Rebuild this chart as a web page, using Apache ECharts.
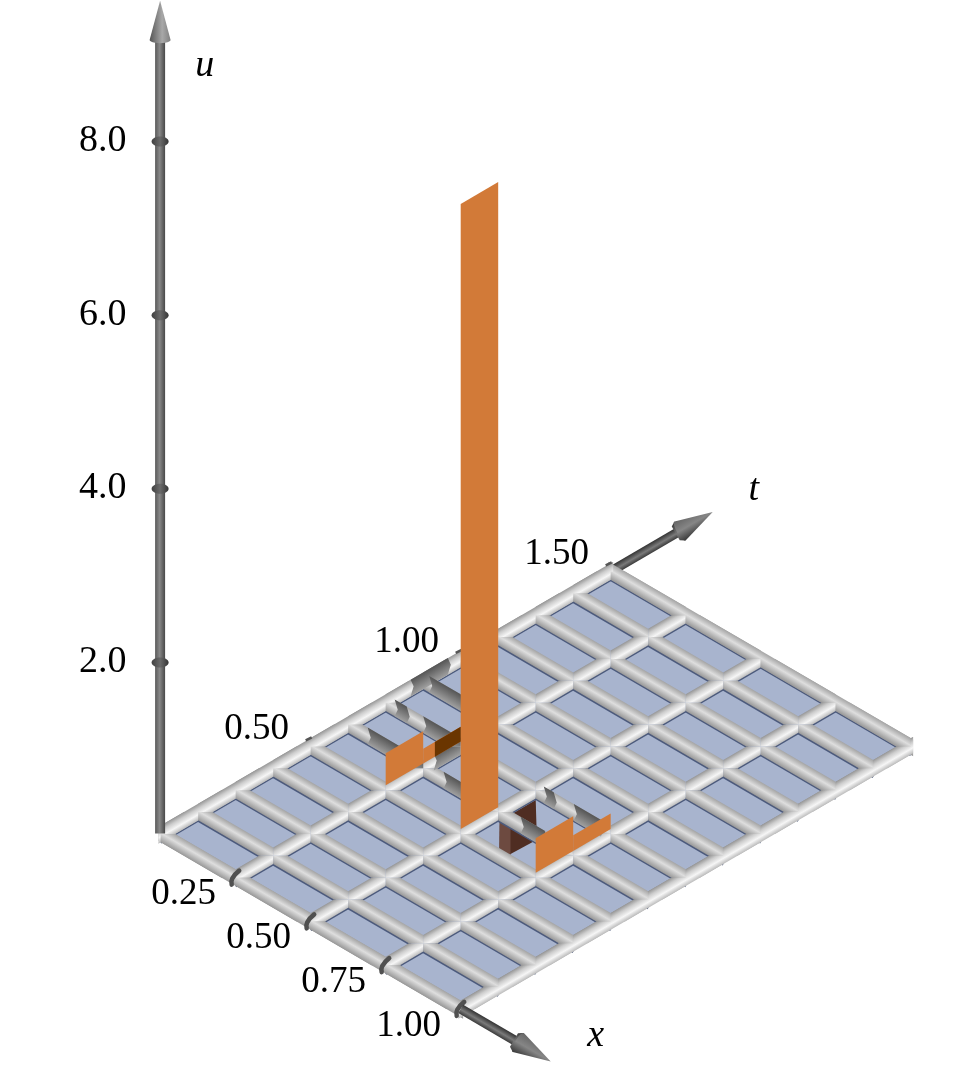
<!DOCTYPE html>
<html>
<head>
<meta charset="utf-8">
<style>html,body{margin:0;padding:0;background:#fff}#c{width:960px;height:1080px}</style>
<script src="https://cdn.jsdelivr.net/npm/echarts@6/dist/echarts.min.js"></script>
</head>
<body>
<div id="c"></div>
<script>
// ---- data (in x, t, u units) ----
const xGrid = [0, 0.25, 0.5, 0.75, 1];
const tGrid = [0, 0.125, 0.25, 0.375, 0.5, 0.625, 0.75, 0.875, 1, 1.125, 1.25, 1.375, 1.5];
const uTicks = [2, 4, 6, 8];
const uTickLabels = ['2.0', '4.0', '6.0', '8.0'];
const xTicks = [0.25, 0.5, 0.75, 1];
const xTickLabels = ['0.25', '0.50', '0.75', '1.00'];
const tTicks = [0.5, 1, 1.5];
const tTickLabels = ['0.50', '1.00', '1.50'];
// solution panels: at x, from t0 to t1, height u
const panelX  = [0.25, 0.25, 0.75, 0.75, 0.5];
const panelT0 = [0.625, 0.5, 0.625, 0.5, 0.5];
const panelT1 = [0.75, 0.625, 0.75, 0.625, 0.625];
const panelU  = [0.17, 0.37, 0.18, 0.40, 7.2];
// part of a panel seen darker
const darkPanel = [[0.25, 0.664, 0.75, 0.17]];
// grid tube stretches lying in shade: x0, t0, x1, t1
const shadeSegments = [
  [0, 0.833, 0, 0.957],
  [0.02, 0.875, 0.125, 0.875],
  [0.03, 0.75, 0.07, 0.75],
  [0.125, 0.75, 0.25, 0.75],
  [0.065, 0.625, 0.25, 0.625],
  [0.318, 0.625, 0.39, 0.625],
  [0.25, 0.66, 0.25, 0.75],
  [0.527, 0.75, 0.56, 0.75],
  [0.627, 0.75, 0.717, 0.75],
  [0.575, 0.625, 0.655, 0.625]
];
// translucent pit floor below the plane, as (x, t) outlines
const pitDark = [[0.528,0.648],[0.528,0.722],[0.644,0.61],[0.64,0.52],[0.61,0.519],[0.531,0.599]];
const pitLight = [[0.531,0.599],[0.563,0.603],[0.643,0.523],[0.61,0.519]];

// ---- oblique projection onto the chart's value axes ----
const OX = 160.7, OY = 836.5, EX = 300, EY = 175, EU = 86.83;
const PLANE = 0.03, SURF = 0.085, TUBE = 0.096;
function proj(x, t, u) { return [OX + EX * (x + t), OY + EY * (x - t) - EU * u]; }
const G = echarts.graphic;
function grad(a, b, stops) { return new G.LinearGradient(a[0], a[1], b[0], b[1], stops, true); }
function poly(points, fill) { return { type: 'polygon', shape: { points }, style: { fill } }; }
const STOPS_T = [{offset:0,color:'#969696'},{offset:0.3,color:'#cdcdcd'},{offset:0.66,color:'#f6f6f6'},{offset:1,color:'#bcbcbc'}];
const STOPS_X = [{offset:0,color:'#a4a4a4'},{offset:0.45,color:'#dedede'},{offset:1,color:'#989898'}];
const STOPS_D = [{offset:0,color:'#555555'},{offset:0.55,color:'#7e7e7e'},{offset:1,color:'#a0a0a0'}];

const isNode = (x, t) => xGrid.includes(x) && tGrid.includes(t);

function tubeGrad(A, B, D, stops) {
  const dx = B[0] - A[0], dy = B[1] - A[1], l = Math.hypot(dx, dy);
  const n = [-dy / l, dx / l];
  const k = n[0] * (D[0] - A[0]) + n[1] * (D[1] - A[1]);
  return grad(A, [A[0] + n[0] * k, A[1] + n[1] * k], stops);
}
// a plain stretch with straight vertical ends
function tubeFull(api, x0, t0, x1, t1, stops) {
  const c = (x, t, u) => api.coord(proj(x, t, u));
  const A = c(x0, t0, PLANE + TUBE), B = c(x1, t1, PLANE + TUBE);
  const C = c(x1, t1, PLANE - TUBE), D = c(x0, t0, PLANE - TUBE);
  return poly([A, B, C, D], tubeGrad(A, B, D, stops));
}
// a stretch between two places; node ends meet neighbours in a mitred point,
// free ends are bowed like a shading boundary round a cylinder
function tubeArm(api, x0, t0, x1, t1, stops) {
  const A = proj(x0, t0, PLANE + TUBE), B = proj(x1, t1, PLANE + TUBE);
  const C = proj(x1, t1, PLANE - TUBE), D = proj(x0, t0, PLANE - TUBE);
  const N0 = proj(x0, t0, PLANE), N1 = proj(x1, t1, PLANE);
  const dx = N1[0] - N0[0], dy = N1[1] - N0[1], l = Math.hypot(dx, dy);
  const d = [dx / l, dy / l];
  const w = TUBE * EU * EX / EY;
  const rising = d[1] < 0;
  let pts;
  const bow0 = [N0[0] + d[0] * 3.5, N0[1] + d[1] * 3.5], bow1 = [N1[0] + d[0] * 3.5, N1[1] + d[1] * 3.5];
  const startUpper = isNode(x0, t0) ? (rising ? [N0, A] : [N0, [N0[0] + w, N0[1]]]) : [bow0, A];
  const startLower = isNode(x0, t0) ? (rising ? [[N0[0] + w, N0[1]]] : [D]) : [D];
  const end = isNode(x1, t1)
    ? (rising ? [[N1[0] - w, N1[1]], N1, C] : [B, N1, [N1[0] - w, N1[1]]])
    : [B, bow1, C];
  pts = startUpper.concat(end, startLower);
  return poly(pts.map(q => api.coord(q)), tubeGrad(api.coord(A), api.coord(B), api.coord(D), stops));
}

// build tube lists from the grid arrays
const lastT = tGrid[tGrid.length - 1], lastX = xGrid[xGrid.length - 1];
const edgeT = [0, lastX].map(x => [x, tGrid[0] - 0.008, x, lastT + 0.008]);
const edgeX = [0, lastT].map(t => [xGrid[0] - 0.008, t, lastX + 0.008, t]);
const armsT = [], armsX = [], edgeLines = [];
xGrid.forEach(x => {
  for (let i = 0; i < tGrid.length - 1; i++) armsT.push([x, tGrid[i], x, tGrid[i + 1]]);
  if (x < lastX) edgeLines.push([x, tGrid[0], x, lastT]);
});
tGrid.forEach(t => {
  for (let i = 0; i < xGrid.length - 1; i++) armsX.push([xGrid[i], t, xGrid[i + 1], t]);
  if (t > 0) edgeLines.push([xGrid[0], t, lastX, t]);
});

function custom(data, renderItem, z) {
  return { type: 'custom', coordinateSystem: 'cartesian2d', data, renderItem, z, clip: false, silent: true,
    animation: false, encode: { x: 0, y: 1 } };
}
function labelEl(text, p, dx, dy, size, italic) {
  return { type: 'text', style: { x: p[0] + dx, y: p[1] + dy, text, fill: '#000', align: 'center', verticalAlign: 'middle',
    font: (italic ? 'italic ' : '') + size + 'px "Liberation Serif", serif' } };
}
function arrow(api, start, tip, r, coneR, frac, shaftStops, coneStops, collar) {
  const S = api.coord(start), T = api.coord(tip);
  const dx = T[0] - S[0], dy = T[1] - S[1], l = Math.hypot(dx, dy), d = [dx / l, dy / l], n = [-d[1], d[0]];
  const B = [S[0] + d[0] * l * frac, S[1] + d[1] * l * frac];
  const off = (P, a, b) => [P[0] + d[0] * a + n[0] * b, P[1] + d[1] * a + n[1] * b];
  const shaft = poly([off(S, 0, -r), off(B, 0, -r), off(B, 0, r), off(S, 0, r)], grad(off(S, 0, -r), off(S, 0, r), shaftStops));
  const children = [shaft];
  if (collar) children.push(poly([off(B, -collar, -coneR * 0.72), off(B, 0, -coneR), off(B, 0, coneR), off(B, -collar, coneR * 0.72)],
    grad(off(B, 0, -coneR), off(B, 0, coneR), shaftStops)));
  const pts = [T];
  for (let i = 0; i <= 12; i++) {
    const a = Math.PI * i / 12;
    pts.push(off(B, -Math.sin(a) * coneR * 0.3, Math.cos(a) * coneR));
  }
  children.push(poly(pts, grad(off(B, 0, -coneR), off(B, 0, coneR), coneStops)));
  return { type: 'group', children };
}
const SHAFT_U = [{offset:0,color:'#5a5a5a'},{offset:0.45,color:'#888888'},{offset:1,color:'#484848'}];
const CONE_U = [{offset:0,color:'#555'},{offset:0.6,color:'#a8a8a8'},{offset:1,color:'#808080'}];
const SHAFT_D = [{offset:0,color:'#333'},{offset:0.55,color:'#7a7a7a'},{offset:1,color:'#3a3a3a'}];
const CONE_D = [{offset:0,color:'#666'},{offset:0.5,color:'#868686'},{offset:1,color:'#383838'}];

const four = (p, api) => [api.value(0), api.value(1), api.value(2), api.value(3)];
const series = [
  // the plane
  custom([[0, 0, 1, 1.5]], (p, api) => {
    const [x0, t0, x1, t1] = four(p, api);
    return poly([[x0,t0],[x1,t0],[x1,t1],[x0,t1]].map(q => api.coord(proj(q[0], q[1], PLANE))), '#a8b4ce');
  }, 1),
  // pit below the plane
  custom([[0]], (p, api) => poly(pitDark.map(q => api.coord(proj(q[0], q[1], PLANE))), '#4f2d22'), 2),
  custom([[0]], (p, api) => poly(pitLight.map(q => api.coord(proj(q[0], q[1], PLANE))), '#6d4a40'), 3),
  // dark contact lines at the tubes' lower side
  custom(edgeLines, (p, api) => {
    const [x0, t0, x1, t1] = four(p, api);
    const a = api.coord(proj(x0, t0, PLANE - TUBE - 0.005));
    const b = api.coord(proj(x1, t1, PLANE - TUBE - 0.005));
    return { type: 'polyline', shape: { points: [a, b] }, style: { stroke: '#4c5a7c', lineWidth: 2.2, fill: null } };
  }, 4),
  // outer frame tubes
  custom(edgeX, (p, api) => { const v = four(p, api); return tubeFull(api, v[0], v[1], v[2], v[3], STOPS_X); }, 5),
  custom(edgeT, (p, api) => { const v = four(p, api); return tubeFull(api, v[0], v[1], v[2], v[3], STOPS_T); }, 5),
  // grid tubes
  custom(armsT, (p, api) => { const v = four(p, api); return tubeArm(api, v[0], v[1], v[2], v[3], STOPS_T); }, 6),
  custom(armsX, (p, api) => { const v = four(p, api); return tubeArm(api, v[0], v[1], v[2], v[3], STOPS_X); }, 6),
  custom(shadeSegments, (p, api) => { const v = four(p, api); return tubeArm(api, v[0], v[1], v[2], v[3], STOPS_D); }, 7),
  // x tick rings and t tick marks
  custom(xTicks.map(v => [v]), (p, api) => {
    const c = api.coord(proj(api.value(0), 0, PLANE));
    return { type: 'polyline', shape: { points: [[c[0] - 4, c[1] + 7], [c[0] - 3.5, c[1] + 1], [c[0] + 3.5, c[1] - 7]], smooth: 0.5 },
      style: { stroke: '#505050', lineWidth: 4.5, fill: null, lineCap: 'round' } };
  }, 8),
  custom(tTicks.map(v => [v]), (p, api) => {
    const c = api.coord(proj(0, api.value(0), PLANE));
    return { type: 'polyline', shape: { points: [[c[0] - 5, c[1] - 6], [c[0] + 1, c[1] - 9]] },
      style: { stroke: '#555', lineWidth: 2.5, fill: null } };
  }, 8),
  // solution panels
  custom(panelX.map((x, i) => [x, panelT0[i], panelT1[i], panelU[i]]), (p, api) => {
    const [x, a, b, u] = four(p, api);
    return poly([proj(x, a, SURF), proj(x, b, SURF), proj(x, b, SURF + u), proj(x, a, SURF + u)].map(q => api.coord(q)), '#d27a38');
  }, 9),
  custom(darkPanel, (p, api) => {
    const [x, a, b, u] = four(p, api);
    return poly([proj(x, a, SURF), proj(x, b, SURF), proj(x, b, SURF + u), proj(x, a, SURF + u)].map(q => api.coord(q)), '#6a3500');
  }, 10),
  // axis arrows
  custom([[0, 0, 9.62]], (p, api) =>
    arrow(api, proj(-0.002, 0, 0.03), proj(-0.002, 0, api.value(2)), 5, 10.5, 0.953, SHAFT_U, CONE_U), 11),
  custom([[1.3, 0, 0]], (p, api) =>
    arrow(api, proj(1, 0, PLANE), proj(api.value(0), 0, PLANE), 4.8, 11, 0.64, SHAFT_D, CONE_D, 5), 11),
  custom([[0, 1.84, 0]], (p, api) =>
    arrow(api, proj(0, 1.5, PLANE), proj(0, api.value(1), PLANE), 4.8, 11, 0.68, SHAFT_D, CONE_D, 5), 4),
  // u tick rings
  custom(uTicks.map(v => [v]), (p, api) => {
    const c = api.coord(proj(-0.002, 0, api.value(0)));
    return { type: 'ellipse', shape: { cx: c[0], cy: c[1], rx: 8.5, ry: 5 },
      style: { fill: grad([c[0] - 9, c[1]], [c[0] + 9, c[1]], [{offset:0,color:'#3e3e3e'},{offset:0.5,color:'#6a6a6a'},{offset:1,color:'#333'}]) } };
  }, 12),
  // tick labels
  custom(uTicks.map((v, i) => [v, i]), (p, api) =>
    labelEl(uTickLabels[api.value(1)], api.coord(proj(0, 0, api.value(0))), -58, -1, 38), 13),
  custom(xTicks.map((v, i) => [v, i]), (p, api) =>
    labelEl(xTickLabels[api.value(1)], api.coord(proj(api.value(0), 0, PLANE)), -52, 17, 37), 13),
  custom(tTicks.map((v, i) => [v, i]), (p, api) =>
    labelEl(tTickLabels[api.value(1)], api.coord(proj(0, api.value(0), PLANE)), -54, -17, 37), 13),
  // axis names
  custom([[0, 0, 9.02]], (p, api) =>
    labelEl('u', api.coord(proj(api.value(0), api.value(1), api.value(2))), 44, 13, 38, true), 13),
  custom([[1.29, 0, 0]], (p, api) =>
    labelEl('x', api.coord(proj(api.value(0), api.value(1), api.value(2))), 48, -26, 38, true), 13),
  custom([[0, 1.84, 0]], (p, api) =>
    labelEl('t', api.coord(proj(api.value(0), api.value(1), api.value(2))), 41, -24, 38, true), 13)
];

const chart = echarts.init(document.getElementById('c'), null, { renderer: 'canvas' });
chart.setOption({
  animation: false,
  backgroundColor: '#ffffff',
  grid: { left: 0, right: 0, top: 0, bottom: 0 },
  xAxis: { type: 'value', min: 0, max: 960, show: false },
  yAxis: { type: 'value', min: 0, max: 1080, inverse: true, show: false },
  series
});
</script>
</body>
</html>
